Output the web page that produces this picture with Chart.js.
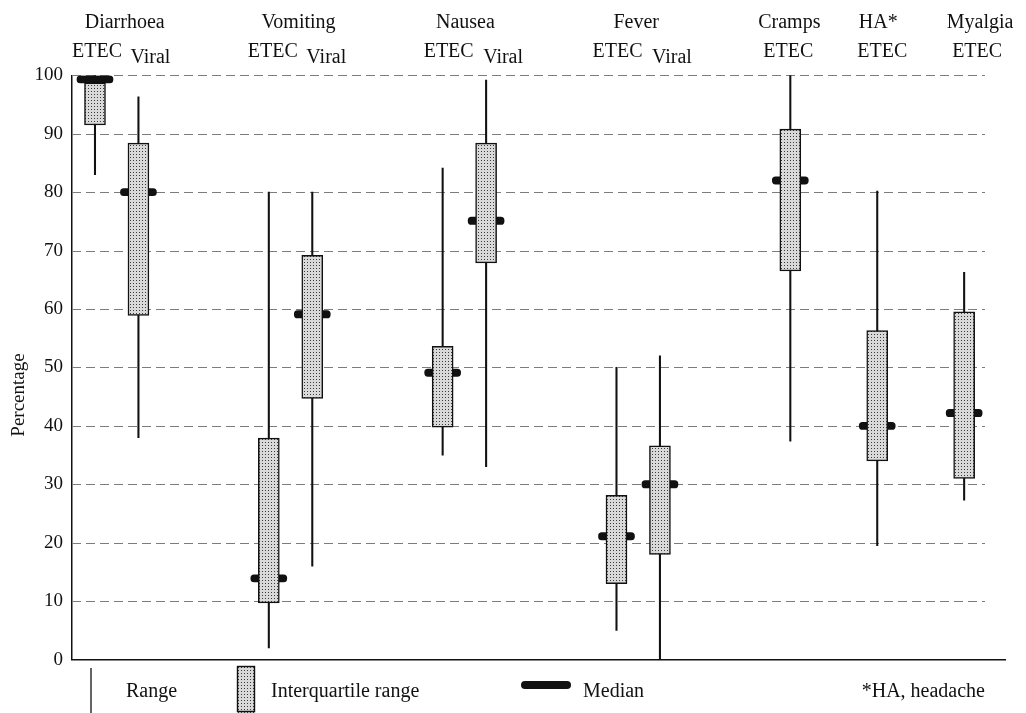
<!DOCTYPE html>
<html>
<head>
<meta charset="utf-8">
<title>Symptoms: ETEC vs viral</title>
<script src="https://cdn.jsdelivr.net/npm/chart.js@4.4.1/dist/chart.umd.min.js"></script>
<style>
  html, body { margin: 0; padding: 0; background: #fff; }
  #wrap { width: 1026px; height: 713px; position: relative; }
</style>
</head>
<body>
<div id="wrap"><canvas id="symptomChart"></canvas></div>
<script>
// one entry per box, left to right
const symptoms  = ['Diarrhoea', 'Diarrhoea', 'Vomiting', 'Vomiting', 'Nausea', 'Nausea', 'Fever', 'Fever', 'Cramps', 'HA*', 'Myalgia'];
const agents    = ['ETEC', 'Viral', 'ETEC', 'Viral', 'ETEC', 'Viral', 'ETEC', 'Viral', 'ETEC', 'ETEC', 'ETEC'];
const slot      = [0, 1, 4, 5, 8, 9, 12, 13, 16, 18, 20];
const rangeLow  = [83, 38, 2, 16, 35, 33, 5, 0, 37.4, 19.5, 27.3];
const rangeHigh = [100.3, 96.3, 80, 80, 84.1, 99.2, 50, 52, 100.2, 80.2, 66.3];
const q1        = [91.5, 58.9, 9.7, 44.7, 39.8, 67.9, 13, 18, 66.5, 34, 31];
const q3        = [98.7, 88.4, 37.9, 69.2, 53.6, 88.4, 28.1, 36.6, 90.8, 56.3, 59.5];
const medians   = [99.3, 80, 13.9, 59.1, 49.1, 75.1, 21.1, 30, 82, 40, 42.2];
const yTicks    = [0, 10, 20, 30, 40, 50, 60, 70, 80, 90, 100];

const FONT = 'Liberation Serif, Times New Roman, serif';
const INK = '#111';
const medianHalf = 0.62;

// stippled fill like the printed boxes
function stipple(ctx) {
  const tile = document.createElement('canvas');
  tile.width = 3; tile.height = 3;
  const t = tile.getContext('2d');
  t.fillStyle = '#d9d9d9';
  t.fillRect(0, 0, 3, 3);
  t.fillStyle = '#3c3c3c';
  t.fillRect(1, 1, 1, 1);
  return ctx.createPattern(tile, 'repeat');
}

// header text nudges in px: [name, ETEC, Viral]
const headerNudge = {
  'Diarrhoea': [8, 2, 12], 'Vomiting': [8, 4, 14], 'Nausea': [1, 6, 17], 'Fever': [-2, 1, 12],
  'Cramps': [-1, -2, 0], 'HA*': [1, 5, 0], 'Myalgia': [16, 13, 0]
};

const paperPlugin = {
  id: 'paper',
  beforeDatasetsDraw(chart) {
    const { ctx, chartArea, scales: { x, y } } = chart;
    ctx.save();
    ctx.strokeStyle = '#7c7c7c';
    ctx.lineWidth = 1;
    ctx.setLineDash([9, 5]);
    const xEnd = x.getPixelForValue(20.48);
    yTicks.forEach(v => {
      if (v === 0) return;
      const py = Math.round(y.getPixelForValue(v)) + 0.5;
      ctx.beginPath();
      ctx.moveTo(chartArea.left, py);
      ctx.lineTo(xEnd, py);
      ctx.stroke();
    });
    ctx.restore();
  },
  afterDraw(chart) {
    const { ctx, scales: { x } } = chart;
    ctx.save();
    ctx.fillStyle = INK;
    ctx.font = '20px ' + FONT;
    ctx.textAlign = 'center';
    ctx.textBaseline = 'alphabetic';

    // column headers
    const names = [...new Set(symptoms)];
    names.forEach(name => {
      const idx = symptoms.map((s, i) => s === name ? i : -1).filter(i => i >= 0);
      const px = idx.map(i => x.getPixelForValue(slot[i]));
      const mid = px.reduce((a, b) => a + b, 0) / px.length;
      const nudge = headerNudge[name] || [0, 0, 0];
      ctx.fillText(name, mid + nudge[0], 28);
      idx.forEach((i, k) => {
        if (agents[i] === 'ETEC') ctx.fillText('ETEC', px[k] + nudge[1], 57);
        else ctx.fillText('Viral', px[k] + nudge[2], 63);
      });
    });

    // y title
    ctx.save();
    ctx.translate(24, 395);
    ctx.rotate(-Math.PI / 2);
    ctx.font = '19px ' + FONT;
    ctx.fillText('Percentage', 0, 0);
    ctx.restore();

    // legend
    ctx.strokeStyle = INK;
    ctx.beginPath();
    ctx.lineWidth = 1.3;
    ctx.moveTo(91, 668);
    ctx.lineTo(91, 713);
    ctx.stroke();

    ctx.fillStyle = chart.$stipple;
    ctx.fillRect(237, 666, 18, 50);
    ctx.lineWidth = 1.4;
    ctx.strokeRect(237.5, 666.5, 17, 45);

    ctx.beginPath();
    ctx.lineCap = 'round';
    ctx.lineWidth = 8;
    ctx.moveTo(525, 685);
    ctx.lineTo(567, 685);
    ctx.stroke();

    ctx.fillStyle = INK;
    ctx.font = '20px ' + FONT;
    ctx.textAlign = 'left';
    ctx.fillText('Range', 126, 697);
    ctx.fillText('Interquartile range', 271, 697);
    ctx.fillText('Median', 583, 697);
    ctx.textAlign = 'right';
    ctx.fillText('*HA, headache', 985, 697);
    ctx.restore();
  }
};

document.addEventListener('DOMContentLoaded', function () {
  const canvas = document.getElementById('symptomChart');
  const ctx = canvas.getContext('2d');
  const boxFill = stipple(ctx);

  const points = (lo, hi) => slot.map((s, i) => ({ x: s, y: [lo[i], hi[i]] }));

  const chart = new Chart(canvas, {
    type: 'bar',
    data: {
      datasets: [
        {
          label: 'Interquartile range',
          data: points(q1, q3),
          backgroundColor: boxFill,
          borderColor: INK,
          borderWidth: 1.5,
          borderSkipped: false,
          barThickness: 21,
          grouped: false
        },
        {
          label: 'Median',
          data: slot.map((s, i) => ({ x: s, y: [medians[i] - medianHalf, medians[i] + medianHalf] })),
          backgroundColor: INK,
          borderWidth: 0,
          borderRadius: 3.6,
          borderSkipped: false,
          barThickness: 36,
          grouped: false
        },
        {
          label: 'Range',
          data: points(rangeLow, rangeHigh),
          backgroundColor: INK,
          borderWidth: 0,
          barThickness: 1.4,
          grouped: false
        }
      ]
    },
    options: {
      responsive: true,
      maintainAspectRatio: false,
      animation: false,
      layout: { padding: { top: 75.3, right: 21, left: 0, bottom: 0 } },
      plugins: {
        legend: { display: false },
        tooltip: { enabled: false }
      },
      scales: {
        x: {
          type: 'linear',
          min: -0.529,
          max: 20.94,
          offset: false,
          ticks: { display: false },
          grid: { display: false, drawTicks: false },
          border: { display: true, color: INK, width: 1.5 },
          afterFit: scale => { scale.height = 53.4; }
        },
        y: {
          min: 0,
          max: 100,
          afterBuildTicks: scale => { scale.ticks = yTicks.map(v => ({ value: v })); },
          ticks: {
            padding: 9,
            color: INK,
            font: { family: FONT, size: 19 }
          },
          grid: { display: false, drawTicks: false },
          border: { display: true, color: INK, width: 1.5 },
          afterFit: scale => { scale.width = 72; }
        }
      }
    },
    plugins: [paperPlugin]
  });
  chart.$stipple = boxFill;
  chart.draw();
});
</script>
</body>
</html>
